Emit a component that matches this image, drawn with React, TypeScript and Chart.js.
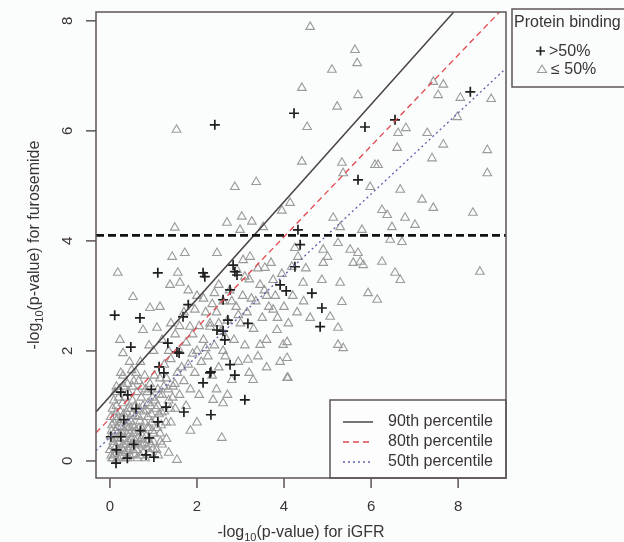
import React, { useEffect, useRef } from "react";
import { Chart, registerables } from "chart.js";

Chart.register(...registerables);

const FONT = '"Liberation Sans", Arial, sans-serif';

const xTicks = [0, 2, 4, 6, 8];
const yTicks = [0, 2, 4, 6, 8];
const xRange = [-0.32, 9.1];
const yRange = [-0.31, 8.16];

const xTitle = ["-log", "10", "(p-value) for iGFR"];
const yTitle = ["-log", "10", "(p-value) for furosemide"];

const bindingTitle = "Protein binding";
const bindingLabels = [">50%", "\u2264 50%"];
const percentileLabels = ["90th percentile", "80th percentile", "50th percentile"];

// reference lines (endpoints)
const line90: [number, number][] = [[-0.32, 0.89], [7.9, 8.16]];
const line80: [number, number][] = [[-0.32, 0.51], [8.95, 8.16]];
const line50: [number, number][] = [[-0.32, 0.19], [9.05, 7.1]];
const threshold: [number, number][] = [[-0.32, 4.1], [9.1, 4.1]];

// Protein binding > 50%
const highBinding: [number, number][] = [
  [2.41, 6.11], [4.23, 6.32], [5.86, 6.07], [6.55, 6.2], [8.28, 6.71], [5.7, 5.11],
  [4.32, 4.2], [4.37, 3.93], [4.25, 3.53], [4.05, 3.09], [4.64, 3.05], [4.87, 2.78],
  [4.83, 2.44], [3.91, 3.2], [0.11, 2.65], [0.69, 2.6], [1.1, 3.42], [2.14, 3.42],
  [2.18, 3.35], [2.83, 3.56], [2.87, 3.44], [2.92, 3.38], [2.76, 3.11], [2.6, 2.93],
  [1.8, 2.84], [1.68, 2.62], [0.48, 2.07], [1.33, 2.14], [1.59, 1.96], [1.13, 1.71],
  [1.24, 1.6], [2.71, 2.56], [2.46, 2.38], [2.6, 2.36], [3.17, 2.5], [2.64, 2.2],
  [2.76, 1.75], [2.87, 1.56], [2.3, 1.6], [2.14, 1.42], [1.54, 1.98], [2.32, 1.62],
  [3.1, 1.11], [2.32, 0.84], [1.7, 0.89], [1.29, 0.98], [0.25, 1.25], [0.41, 1.2],
  [0.32, 0.75], [1.1, 0.71], [0.02, 0.44], [0.25, 0.44], [0.9, 0.42], [0.83, 0.11],
  [1.01, 0.07], [0.14, -0.04], [0.55, 0.3], [0.7, 0.55], [0.4, 0.05], [0.15, 0.2],
  [0.95, 1.3], [0.6, 0.95],
];

// Protein binding <= 50%
const lowBinding: [number, number][] = [
  // upper region
  [1.53, 6.02], [2.87, 4.98], [3.36, 5.07], [1.49, 4.24], [2.69, 4.33], [3.03, 4.44],
  [3.26, 4.35], [2.99, 4.2], [3.52, 4.25], [4.6, 7.89], [5.63, 7.47], [5.68, 7.23],
  [5.1, 7.11], [4.41, 6.78], [5.7, 6.65], [5.22, 6.44], [4.53, 6.07], [6.62, 5.96],
  [6.8, 6.05], [6.6, 5.69], [7.29, 5.96], [7.66, 5.75], [7.43, 6.89], [7.66, 6.84],
  [7.54, 6.65], [8.05, 6.6], [8.76, 6.58], [7.98, 6.25], [8.67, 5.65], [8.67, 5.23],
  [7.4, 5.5], [4.41, 5.44], [5.33, 5.42], [6.09, 5.38], [6.16, 5.38], [5.36, 5.23],
  [5.98, 4.98], [6.67, 4.93], [7.17, 4.75], [7.43, 4.6], [8.34, 4.51], [6.25, 4.56],
  [6.37, 4.47], [5.13, 4.42], [5.29, 4.25], [5.79, 4.2], [6.78, 4.42], [7.01, 4.29],
  [6.48, 4.25], [4.14, 4.69], [3.95, 4.55], [6.44, 4.02], [6.71, 3.98],
  // middle right
  [5.24, 3.96], [5.52, 3.84], [5.7, 3.78], [5.75, 3.62], [5.59, 3.6], [5.82, 3.56],
  [4.9, 3.6], [6.25, 3.62], [6.55, 3.42], [6.67, 3.29], [8.5, 3.44], [4.87, 3.29],
  [5.29, 3.24], [4.44, 3.24], [5.93, 3.05], [6.14, 2.93], [5.33, 2.89], [5.06, 2.62],
  [4.6, 2.6], [5.24, 2.42], [5.24, 2.11], [5.36, 2.05], [3.98, 2.11], [4.07, 1.87],
  [4.07, 1.51], [4.9, 3.84], [5.0, 3.71], [4.25, 3.87], [4.32, 3.71],
  // middle left
  [0.18, 3.42], [1.43, 3.71], [1.72, 3.78], [2.46, 3.78], [1.56, 3.42], [1.61, 3.24],
  [1.38, 3.2], [2.92, 3.47], [3.06, 3.65], [3.22, 3.71], [3.56, 3.51], [3.75, 3.29],
  [4.18, 3.53], [0.53, 2.98], [0.92, 2.78], [1.15, 2.8], [0.76, 2.38], [1.08, 2.42],
  [1.84, 2.44], [2.3, 2.44], [0.23, 2.2], [0.3, 1.96], [3.45, 2.11], [3.84, 2.38],
  [4.07, 2.16], [3.91, 1.8], [4.09, 1.51], [3.17, 1.84], [2.8, 1.47], [3.29, 1.47],
  [2.57, 0.42], [1.54, 0.02], [2.37, 1.11], [2.6, 1.05],
  // diagonal band
  [1.0, 2.0], [1.2, 2.2], [1.3, 1.5], [0.6, 1.6], [0.4, 1.4], [0.25, 1.6], [0.7, 1.8],
  [0.9, 2.1], [1.4, 2.5], [1.6, 2.0], [1.7, 2.7], [1.9, 2.3], [2.0, 3.0], [2.2, 2.7],
  [1.8, 3.1], [2.5, 3.2], [2.6, 2.0], [0.15, 1.35], [0.35, 1.15], [0.55, 1.45],
  [0.45, 1.8], [0.8, 1.55], [1.1, 1.3], [1.45, 1.35], [1.5, 0.95], [1.55, 1.6],
  [1.6, 1.2], [1.7, 1.45], [1.75, 1.0], [1.8, 1.75], [1.85, 1.3], [1.95, 1.6],
  [2.0, 2.0], [2.05, 1.2], [2.1, 1.8], [2.15, 2.2], [2.25, 1.9], [2.3, 2.5],
  [2.35, 1.55], [2.4, 2.1], [2.45, 2.7], [2.5, 1.7], [2.55, 2.35], [2.6, 2.9],
  [2.65, 1.9], [2.7, 2.55], [2.75, 3.1], [2.85, 2.2], [2.9, 2.8], [2.95, 1.8],
  [3.0, 2.5], [3.05, 3.0], [3.1, 2.1], [3.15, 2.7], [3.2, 3.3], [3.3, 2.4],
  [3.35, 2.9], [3.4, 3.5], [3.5, 2.6], [3.55, 3.1], [3.6, 2.2], [3.65, 2.8],
  [3.7, 3.6], [3.8, 3.0], [3.85, 2.6], [3.95, 3.4], [4.0, 2.8], [4.1, 2.5],
  [4.2, 3.0], [4.3, 2.7], [4.45, 2.9], [4.5, 3.5], [3.2, 1.6], [3.4, 1.9],
  [3.6, 1.7], [2.45, 1.3], [2.7, 1.2], [2.0, 0.7], [1.85, 0.55],
  [1.25, 1.75], [1.35, 2.0], [1.5, 2.3], [1.65, 1.7], [1.75, 2.15], [1.9, 1.95],
  [2.05, 2.45], [2.2, 2.05], [2.35, 2.85], [2.5, 2.5], [2.65, 2.25], [2.8, 2.9],
  [2.95, 2.65], [3.1, 3.35], [3.25, 2.95], [3.45, 3.2], [3.6, 3.0], [3.75, 2.75],
  [1.15, 1.5], [1.4, 1.85], [1.6, 2.45], [1.95, 2.75], [2.15, 2.95], [2.4, 3.05],
  // dense cluster near origin
  [0.05, 0.05], [0.1, 0.12], [0.15, 0.02], [0.2, 0.2], [0.25, 0.08], [0.3, 0.3],
  [0.35, 0.15], [0.4, 0.05], [0.45, 0.25], [0.5, 0.4], [0.55, 0.12], [0.6, 0.55],
  [0.65, 0.3], [0.7, 0.1], [0.75, 0.45], [0.8, 0.7], [0.85, 0.25], [0.9, 0.6],
  [0.95, 0.85], [1.0, 0.35], [1.05, 0.75], [1.1, 1.0], [1.15, 0.5], [1.2, 1.2],
  [0.08, 0.35], [0.12, 0.55], [0.18, 0.42], [0.22, 0.7], [0.28, 0.5], [0.32, 0.85],
  [0.38, 0.62], [0.42, 0.95], [0.48, 0.72], [0.52, 1.1], [0.58, 0.82], [0.62, 1.25],
  [0.68, 0.95], [0.72, 1.15], [0.78, 0.9], [0.82, 1.3], [0.88, 1.05], [0.92, 1.4],
  [0.98, 1.15], [1.02, 1.55], [0.1, 0.8], [0.15, 1.0], [0.2, 1.15], [0.05, 0.65],
  [0.0, 0.2], [0.02, 0.45], [0.13, 0.25], [0.27, 0.22], [0.33, 0.4], [0.37, 0.05],
  [0.43, 0.35], [0.47, 0.5], [0.53, 0.2], [0.57, 0.38], [0.63, 0.05], [0.67, 0.6],
  [0.73, 0.28], [0.77, 0.15], [0.83, 0.45], [0.87, 0.8], [0.93, 0.3], [0.97, 0.55],
  [1.07, 0.2], [1.13, 0.85], [1.18, 0.65], [1.25, 0.9], [1.3, 0.4], [1.35, 1.1],
  [1.4, 0.7], [1.2, 0.3], [1.35, 0.15], [0.06, 0.95], [0.09, 1.1], [0.18, 0.6],
  [0.24, 0.9], [0.29, 1.05], [0.36, 0.3], [0.41, 0.7], [0.46, 0.1], [0.51, 0.85],
  [0.56, 0.6], [0.61, 0.2], [0.66, 0.8], [0.71, 0.4], [0.76, 1.0], [0.81, 0.05],
  [0.86, 0.6], [0.91, 0.15], [0.96, 0.7], [1.01, 0.5], [1.06, 0.95], [1.11, 0.1],
  [1.16, 0.35], [0.03, 0.1], [0.07, 0.27], [0.11, 0.4], [0.16, 0.75], [0.21, 0.35],
  [0.26, 0.62], [0.31, 0.18], [0.39, 0.48], [0.44, 0.6], [0.49, 0.3], [0.54, 0.5],
  [0.04, 0.55], [0.09, 0.7], [0.14, 0.88], [0.19, 0.05], [0.23, 0.48], [0.28, 0.75],
  [0.34, 0.55], [0.38, 0.88], [0.43, 0.18], [0.48, 0.95], [0.53, 0.65], [0.58, 1.0],
  [0.64, 0.42], [0.69, 0.72], [0.74, 0.58], [0.79, 0.32], [0.84, 0.92], [0.89, 0.38],
  [0.94, 1.0], [0.99, 0.22], [1.04, 1.1], [1.09, 0.6], [1.14, 1.2], [1.19, 0.88],
  [1.24, 1.35], [1.29, 0.7], [1.34, 1.3], [1.39, 0.95], [1.44, 1.15], [1.49, 1.4],
  [0.12, 1.25], [0.22, 1.3], [0.32, 1.35], [0.42, 1.25], [0.52, 1.35], [0.66, 1.45],
  [0.74, 1.35], [0.86, 1.25], [0.3, 1.55], [0.5, 1.65], [0.02, 0.8], [0.07, 0.05],
];

export default function App() {
  const ref = useRef<HTMLCanvasElement | null>(null);

  useEffect(() => {
    const canvas = ref.current;
    if (!canvas) return;

    const pts = (arr: [number, number][]) => arr.map(([x, y]) => ({ x, y }));

    const drawRich = (
      ctx: CanvasRenderingContext2D,
      segs: string[],
      cx: number,
      cy: number,
      rot: number
    ) => {
      const parts = [
        { t: segs[0], s: 16, dy: 0 },
        { t: segs[1], s: 11, dy: 5 },
        { t: segs[2], s: 16, dy: 0 },
      ];
      ctx.save();
      ctx.translate(cx, cy);
      ctx.rotate(rot);
      ctx.textBaseline = "middle";
      ctx.textAlign = "left";
      let total = 0;
      for (const p of parts) {
        ctx.font = `${p.s}px ${FONT}`;
        total += ctx.measureText(p.t).width;
      }
      let x = -total / 2;
      for (const p of parts) {
        ctx.font = `${p.s}px ${FONT}`;
        ctx.fillText(p.t, x, p.dy);
        x += ctx.measureText(p.t).width;
      }
      ctx.restore();
    };

    const decor = {
      id: "decor",
      beforeDraw(chart: any) {
        const ctx = chart.ctx as CanvasRenderingContext2D;
        ctx.save();
        ctx.fillStyle = "#fbfcfc";
        ctx.fillRect(0, 0, chart.width, chart.height);
        ctx.restore();
      },
      afterDraw(chart: any) {
        const ctx = chart.ctx as CanvasRenderingContext2D;
        const xs = chart.scales.x;
        const ys = chart.scales.y;
        const a = chart.chartArea;
        const boxColor = "#5e5454";
        const textColor = "#3a3535";

        // bottom-right legend
        ctx.save();
        const lx0 = 330, ly0 = 400;
        ctx.fillStyle = "#fdfdfd";
        ctx.fillRect(lx0, ly0, a.right - lx0, a.bottom - ly0);
        ctx.strokeStyle = boxColor;
        ctx.lineWidth = 1.5;
        ctx.strokeRect(lx0, ly0, a.right - lx0, a.bottom - ly0);
        const styles = [
          { c: "#4a4444", d: [] as number[], w: 1.5 },
          { c: "#e0474c", d: [6, 4], w: 1.3 },
          { c: "#5a5fb0", d: [2, 3], w: 1.3 },
        ];
        percentileLabels.forEach((lab, i) => {
          const yy = 422 + i * 20;
          ctx.strokeStyle = styles[i].c;
          ctx.lineWidth = styles[i].w;
          ctx.setLineDash(styles[i].d);
          ctx.beginPath();
          ctx.moveTo(343, yy);
          ctx.lineTo(373, yy);
          ctx.stroke();
          ctx.setLineDash([]);
          ctx.fillStyle = textColor;
          ctx.font = `16px ${FONT}`;
          ctx.textBaseline = "middle";
          ctx.textAlign = "left";
          ctx.fillText(lab, 388, yy);
        });
        ctx.restore();

        // plot box
        ctx.save();
        ctx.strokeStyle = boxColor;
        ctx.lineWidth = 1.5;
        ctx.strokeRect(a.left, a.top, a.right - a.left, a.bottom - a.top);

        // ticks
        ctx.fillStyle = textColor;
        ctx.font = `15px ${FONT}`;
        xTicks.forEach((v) => {
          const px = xs.getPixelForValue(v);
          ctx.beginPath();
          ctx.moveTo(px, a.bottom);
          ctx.lineTo(px, a.bottom + 10);
          ctx.stroke();
          ctx.textAlign = "center";
          ctx.textBaseline = "middle";
          ctx.fillText(String(v), px, 507);
        });
        yTicks.forEach((v) => {
          const py = ys.getPixelForValue(v);
          ctx.beginPath();
          ctx.moveTo(a.left, py);
          ctx.lineTo(a.left - 10, py);
          ctx.stroke();
          ctx.save();
          ctx.translate(68, py);
          ctx.rotate(-Math.PI / 2);
          ctx.textAlign = "center";
          ctx.textBaseline = "middle";
          ctx.fillText(String(v), 0, 0);
          ctx.restore();
        });

        // axis titles
        ctx.fillStyle = textColor;
        drawRich(ctx, xTitle, (a.left + a.right) / 2, 533, 0);
        drawRich(ctx, yTitle, 35, (a.top + a.bottom) / 2, -Math.PI / 2);

        // top-right legend
        ctx.strokeStyle = boxColor;
        ctx.lineWidth = 1.5;
        ctx.strokeRect(512, 9, 130, 78);
        ctx.font = `16px ${FONT}`;
        ctx.textAlign = "left";
        ctx.textBaseline = "middle";
        ctx.fillText(bindingTitle, 514, 23);
        // cross
        ctx.strokeStyle = "#222";
        ctx.lineWidth = 1.7;
        ctx.beginPath();
        ctx.moveTo(536, 51);
        ctx.lineTo(545, 51);
        ctx.moveTo(540.5, 46.5);
        ctx.lineTo(540.5, 55.5);
        ctx.stroke();
        ctx.fillText(bindingLabels[0], 549, 52);
        // triangle
        ctx.strokeStyle = "#9a9a9a";
        ctx.lineWidth = 1.1;
        ctx.beginPath();
        ctx.moveTo(542, 65);
        ctx.lineTo(546.5, 72.5);
        ctx.lineTo(537.5, 72.5);
        ctx.closePath();
        ctx.stroke();
        ctx.fillText(bindingLabels[1], 551, 70);
        ctx.restore();
      },
    };

    const chart = new Chart(canvas, {
      type: "scatter",
      data: {
        datasets: [
          {
            data: pts(threshold),
            showLine: true,
            borderColor: "#111",
            borderWidth: 2.6,
            borderDash: [8, 4],
            pointRadius: 0,
            order: 0,
          },
          {
            data: pts(line90),
            showLine: true,
            borderColor: "#4a4444",
            borderWidth: 1.5,
            pointRadius: 0,
            order: 1,
          },
          {
            data: pts(line80),
            showLine: true,
            borderColor: "#e0474c",
            borderWidth: 1.3,
            borderDash: [6, 4],
            pointRadius: 0,
            order: 1,
          },
          {
            data: pts(line50),
            showLine: true,
            borderColor: "#5a5fb0",
            borderWidth: 1.3,
            borderDash: [2, 3],
            pointRadius: 0,
            order: 1,
          },
          {
            data: pts(highBinding),
            pointStyle: "cross",
            pointRadius: 5,
            pointBorderWidth: 1.7,
            pointBorderColor: "#1e1e1e",
            borderColor: "#1e1e1e",
            order: 2,
          },
          {
            data: pts(lowBinding),
            pointStyle: "triangle",
            pointRadius: 5,
            pointBorderWidth: 1.1,
            pointBorderColor: "#9a9a9a",
            pointBackgroundColor: "rgba(0,0,0,0)",
            borderColor: "#9a9a9a",
            order: 3,
          },
        ] as any,
      },
      options: {
        responsive: false,
        animation: false,
        events: [],
        devicePixelRatio: 1,
        layout: { padding: { left: 96, top: 12, right: 118, bottom: 64 } },
        plugins: { legend: { display: false }, tooltip: { enabled: false } },
        scales: {
          x: { type: "linear", min: xRange[0], max: xRange[1], display: false },
          y: { type: "linear", min: yRange[0], max: yRange[1], display: false },
        },
      },
      plugins: [decor],
    });

    return () => chart.destroy();
  }, []);

  return (
    <canvas
      ref={ref}
      width={624}
      height={542}
      style={{ position: "absolute", left: 0, top: 0 }}
    />
  );
}
